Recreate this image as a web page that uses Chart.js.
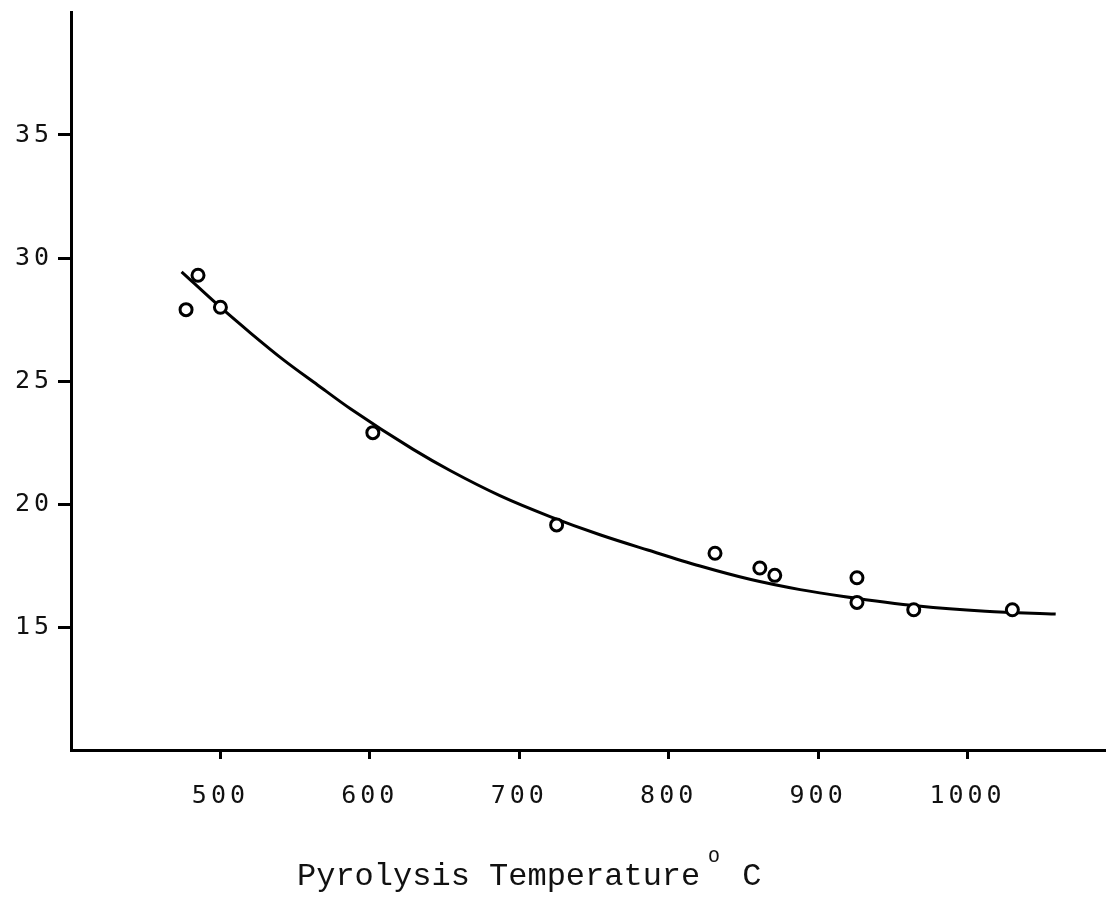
<!DOCTYPE html>
<html lang="en">
<head>
    <meta charset="UTF-8">
    <title>Pyrolysis Temperature</title>
    <script src="https://cdn.jsdelivr.net/npm/chart.js"></script>
    <style>
        body {
            margin: 0;
            padding: 0;
            background: #fff;
        }
        canvas {
            display: block;
        }
    </style>
</head>
<body>
    <canvas id="pyroChart" width="1107" height="899"></canvas>

    <script>
        // measured points
        const tempC = [477, 485, 500, 602, 725, 831, 861, 871, 926, 926, 964, 1030];
        const residue = [27.9, 29.3, 28.0, 22.9, 19.15, 18.0, 17.4, 17.1, 17.0, 16.0, 15.7, 15.7];

        // hand-drawn trend curve
        const curveTemp = [474, 500, 520, 542, 565, 587, 629, 654, 687, 721, 754, 786, 821, 855, 888, 917, 967, 1012, 1059];
        const curveValue = [29.44, 28.0, 26.96, 25.87, 24.84, 23.87, 22.22, 21.35, 20.34, 19.48, 18.75, 18.13, 17.48, 16.93, 16.52, 16.24, 15.85, 15.64, 15.53];

        // tick labels
        const xTicks = [500, 600, 700, 800, 900, 1000];
        const yTicks = [15, 20, 25, 30, 35];

        const tickFont = { family: "'DejaVu Sans Mono', monospace", size: 25 };

        // spaced-out digits like on a typewriter
        const spacing = {
            id: 'spacing',
            beforeDraw(chart) {
                chart.ctx.letterSpacing = '4px';
            }
        };

        // axis caption with a raised "O" before the C
        const caption = {
            id: 'caption',
            afterDraw(chart) {
                const ctx = chart.ctx;
                const x0 = chart.chartArea.left + 226;
                const base = 885;
                ctx.save();
                ctx.letterSpacing = '0px';
                ctx.fillStyle = '#111';
                ctx.textAlign = 'left';
                ctx.textBaseline = 'alphabetic';
                ctx.font = "32px 'Liberation Mono', monospace";
                const main = 'Pyrolysis Temperature';
                ctx.fillText(main, x0, base);
                const w = ctx.measureText(main).width;
                ctx.font = "19px 'Liberation Mono', monospace";
                ctx.fillText('O', x0 + w + 8, base - 23);
                ctx.font = "32px 'Liberation Mono', monospace";
                ctx.fillText('C', x0 + w + 42, base);
                ctx.restore();
            }
        };

        new Chart(document.getElementById('pyroChart'), {
            type: 'scatter',
            data: {
                datasets: [
                    {
                        label: 'measured',
                        data: tempC.map((t, i) => ({ x: t, y: residue[i] })),
                        pointRadius: 6,
                        pointHoverRadius: 6,
                        pointBorderWidth: 3,
                        pointBorderColor: '#000',
                        pointBackgroundColor: '#fff',
                        order: 0
                    },
                    {
                        label: 'curve',
                        data: curveTemp.map((t, i) => ({ x: t, y: curveValue[i] })),
                        showLine: true,
                        borderColor: '#000',
                        borderWidth: 3,
                        pointRadius: 0,
                        cubicInterpolationMode: 'monotone',
                        order: 1
                    }
                ]
            },
            options: {
                responsive: false,
                animation: false,
                layout: {
                    autoPadding: false,
                    padding: { top: 12, right: 2, left: 0, bottom: 0 }
                },
                plugins: {
                    legend: { display: false },
                    tooltip: { enabled: false }
                },
                scales: {
                    x: {
                        type: 'linear',
                        min: 400,
                        max: 1092,
                        afterBuildTicks: (scale) => { scale.ticks = xTicks.map(v => ({ value: v })); },
                        afterFit: (scale) => {
                            scale.height = 149;
                            scale.paddingLeft = 0;
                            scale.paddingRight = 0;
                        },
                        border: { color: '#000', width: 3 },
                        grid: {
                            drawOnChartArea: false,
                            color: '#000',
                            tickLength: 9,
                            tickWidth: 3
                        },
                        ticks: {
                            color: '#111',
                            font: tickFont,
                            padding: 22,
                            maxRotation: 0,
                            callback: (v) => String(v)
                        }
                    },
                    y: {
                        min: 10,
                        max: 40,
                        afterBuildTicks: (scale) => { scale.ticks = yTicks.map(v => ({ value: v })); },
                        afterFit: (scale) => {
                            scale.width = 71;
                            scale.paddingTop = 0;
                            scale.paddingBottom = 0;
                        },
                        border: { color: '#000', width: 3 },
                        grid: {
                            drawOnChartArea: false,
                            color: '#000',
                            tickLength: 13,
                            tickWidth: 3
                        },
                        ticks: {
                            color: '#111',
                            font: tickFont,
                            padding: 5,
                            callback: (v) => String(v)
                        }
                    }
                }
            },
            plugins: [spacing, caption]
        });
    </script>
</body>
</html>
